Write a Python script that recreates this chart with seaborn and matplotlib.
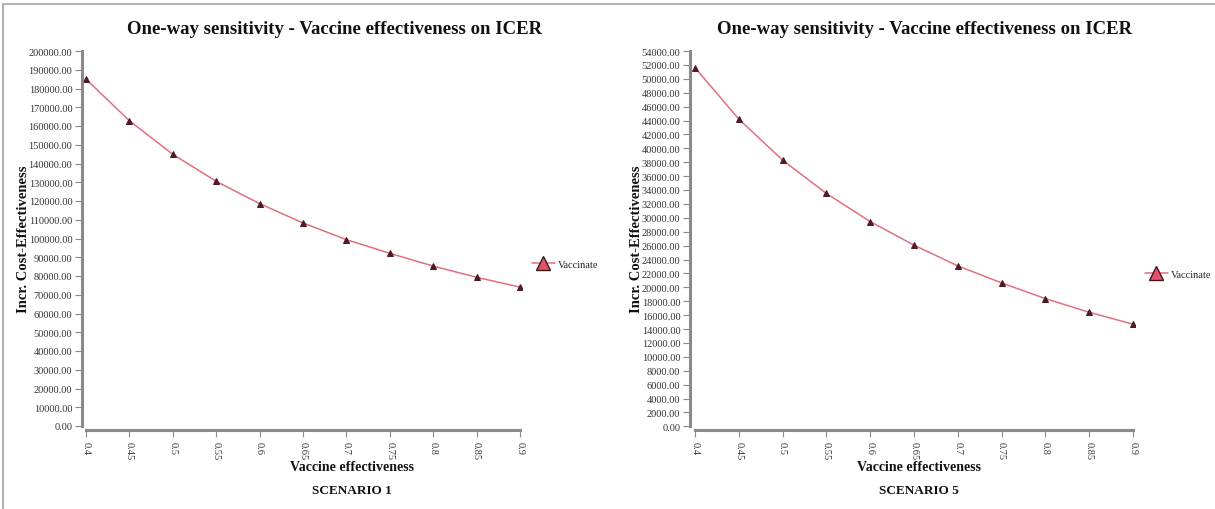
import numpy as np
import pandas as pd
import matplotlib
matplotlib.use("Agg")
import matplotlib.pyplot as plt
from matplotlib.lines import Line2D
from matplotlib.patches import Rectangle
from matplotlib.ticker import FormatStrFormatter
import seaborn as sns

# data
effectiveness = [0.4, 0.45, 0.5, 0.55, 0.6, 0.65, 0.7, 0.75, 0.8, 0.85, 0.9]
icer_scenario1 = [185000, 162800, 144900, 130500, 118600, 108300, 99400, 92100, 85300, 79300, 74100]
icer_scenario5 = [51600, 44200, 38300, 33500, 29460, 26060, 23080, 20630, 18370, 16410, 14690]
scenario_labels = ["SCENARIO 1", "SCENARIO 5"]
strategy = "Vaccinate"
title_text = "One-way sensitivity - Vaccine effectiveness on ICER"

sns.set_style("white")
plt.rcParams["font.family"] = ["Liberation Serif", "DejaVu Serif"]

W, H = 1215, 510
fig = plt.figure(figsize=(W / 100, H / 100), dpi=100)

line_col = "#e07080"
mark_col = "#4a1c28"
axis_col = "#8a8a8a"


def px_axes(left, top, right, bottom):
    return fig.add_axes([left / W, 1 - bottom / H, (right - left) / W, (bottom - top) / H])


# panel setup in pixels: axes box, where 0.4/0.9 and y=0 sit, text centres, legend y
panels = [
    dict(box=(82, 52, 522, 431), x04=86, x09=520, y0=427, vals=icer_scenario1,
         ymax=200000, ystep=10000, tcx=335, lcx=352, ylx=24, leg_y=265),
    dict(box=(690, 52, 1135, 431), x04=695, x09=1133, y0=427.3, vals=icer_scenario5,
         ymax=54000, ystep=2000, tcx=925, lcx=919, ylx=636, leg_y=275),
]

for p, scen in zip(panels, scenario_labels):
    l, t, r, b = p["box"]
    ax = px_axes(l, t, r, b)
    df = pd.DataFrame({"effectiveness": effectiveness, "icer": p["vals"], "strategy": strategy})
    sns.lineplot(data=df, x="effectiveness", y="icer", ax=ax, color=line_col, linewidth=1.1,
                 marker="^", markersize=4.5, markerfacecolor=mark_col, markeredgecolor=mark_col,
                 legend=False)

    # map pixel geometry to data limits
    xs = (p["x09"] - p["x04"]) / 0.5
    ax.set_xlim(0.4 - (p["x04"] - l) / xs, 0.9 + (r - p["x09"]) / xs)
    ys = (p["y0"] - t) / p["ymax"]
    ax.set_ylim(-(b - p["y0"]) / ys, p["ymax"])

    ax.set_xticks(effectiveness)
    ax.set_xticklabels([f"{v:g}" for v in effectiveness], rotation=-90)
    ax.set_yticks(np.arange(0, p["ymax"] + 1, p["ystep"]))
    ax.yaxis.set_major_formatter(FormatStrFormatter("%.2f"))
    ax.tick_params(axis="both", bottom=True, left=True, labelsize=7.5, colors=axis_col,
                   labelcolor="#333333", length=5, width=0.8, direction="out")
    ax.tick_params(axis="x", pad=3)
    ax.tick_params(axis="y", pad=2)

    for s in ["top", "right"]:
        ax.spines[s].set_visible(False)
    ax.spines["left"].set_bounds(0, p["ymax"])
    ax.spines["bottom"].set_bounds(0.4, 0.9)
    for s in ["left", "bottom"]:
        ax.spines[s].set_color(axis_col)
        ax.spines[s].set_linewidth(2.2)
    ax.set_xlabel("")
    ax.set_ylabel("")
    ax.grid(False)

    handle = Line2D([], [], color=line_col, linewidth=1.1, marker="^", markersize=10,
                    markerfacecolor="#e8506a", markeredgecolor="#3a1a20", markeredgewidth=1)
    ax.legend([handle], [strategy], loc="center left", frameon=False, fontsize=7.5,
              bbox_to_anchor=(1 + 10 / (r - l), (b - p["leg_y"]) / (b - t)),
              handlelength=2.2, handletextpad=0.25, borderaxespad=0, borderpad=0)

    fig.text(p["tcx"] / W, 1 - 30 / H, title_text, ha="center", va="center",
             fontsize=13.5, fontweight="bold", color="#111111")
    fig.text(p["lcx"] / W, 1 - 468 / H, "Vaccine effectiveness", ha="center", va="center",
             fontsize=10, fontweight="bold", color="#111111")
    fig.text(p["lcx"] / W, 1 - 491 / H, scen, ha="center", va="center",
             fontsize=9.5, fontweight="bold", color="#111111")
    fig.text(p["ylx"] / W, 1 - 239 / H, "Incr. Cost-Effectiveness", ha="center", va="center",
             rotation=90, fontsize=10.5, fontweight="bold", color="#111111")

# light frame around the whole picture
fig.add_artist(Rectangle((3 / W, -0.1), 1.1, 1 - 5 / H + 0.1, transform=fig.transFigure,
                         fill=False, edgecolor="#b4b4b4", linewidth=1.5))

fig.savefig("out.png", dpi=100)
